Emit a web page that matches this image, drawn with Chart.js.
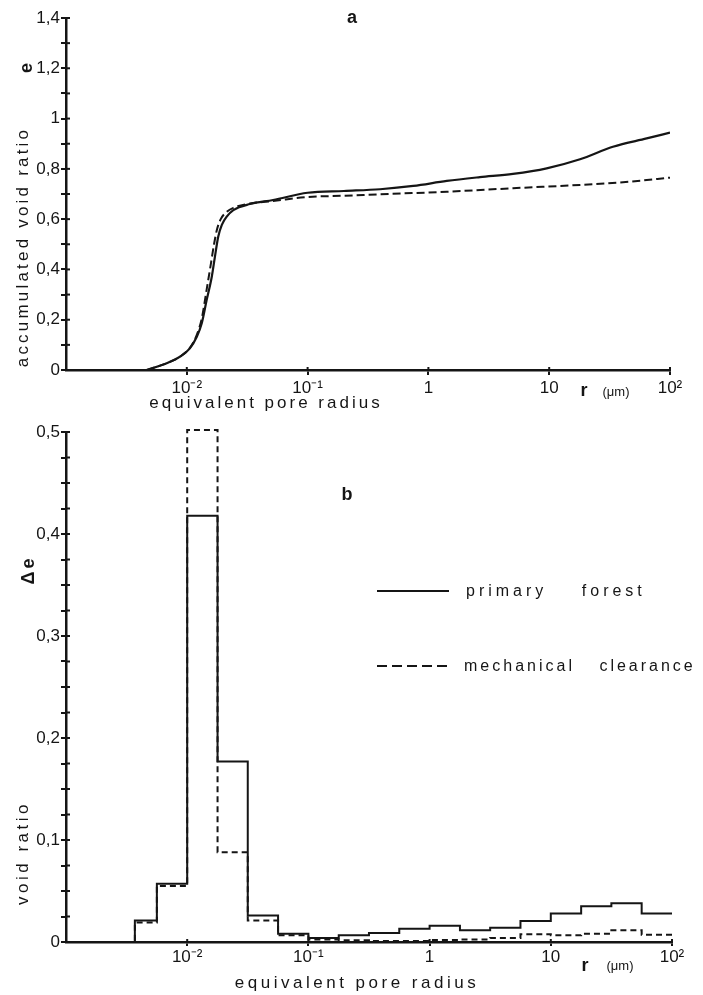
<!DOCTYPE html>
<html><head><meta charset="utf-8">
<script src="https://cdn.jsdelivr.net/npm/chart.js@4.4.1/dist/chart.umd.min.js"></script>
<style>
html,body{margin:0;padding:0;background:#fff;}
#wrap{position:relative;width:703px;height:995px;overflow:hidden;background:#fff;}
canvas{position:absolute;left:0;}
#c1{top:0;}
#c2{top:420px;}
</style></head><body>
<div id="wrap"><canvas id="c1" width="703" height="420"></canvas><canvas id="c2" width="703" height="575"></canvas></div>
<script>
// ---------- data ----------
const seriesNames = ['primary forest', 'mechanical clearance'];
const xTickValues = [0.01, 0.1, 1, 10, 100];
const xTickLabels = ['10⁻²', '10⁻¹', '1', '10', '10²'];

// panel a: accumulated void ratio e vs equivalent pore radius r (µm)
const accRadiusForest = [0.00466, 0.00682, 0.00879, 0.0106, 0.0121, 0.0133, 0.0146, 0.0161, 0.0171, 0.0182, 0.0195, 0.0214, 0.0243, 0.0333, 0.0518, 0.1, 0.2, 0.398, 0.75, 1.42, 2.67, 5.01, 9.53, 18, 33.7, 64.1, 100];
const accVoidForest   = [0, 0.027, 0.053, 0.086, 0.132, 0.186, 0.278, 0.371, 0.451, 0.530, 0.577, 0.610, 0.636, 0.660, 0.676, 0.705, 0.712, 0.719, 0.732, 0.752, 0.767, 0.780, 0.802, 0.838, 0.888, 0.921, 0.944];
const accRadiusClear  = [0.00466, 0.00682, 0.00879, 0.0106, 0.0121, 0.0133, 0.0146, 0.0158, 0.0168, 0.0178, 0.0191, 0.0209, 0.0243, 0.0333, 0.0518, 0.1, 0.2, 0.398, 1.42, 5.01, 18, 46.8, 100];
const accVoidClear    = [0, 0.027, 0.053, 0.088, 0.140, 0.205, 0.320, 0.420, 0.500, 0.560, 0.600, 0.625, 0.645, 0.662, 0.672, 0.688, 0.693, 0.699, 0.709, 0.723, 0.736, 0.749, 0.765];

// panel b: void ratio increment per radius class
const binEdges    = [0.0037, 0.00562, 0.01, 0.0178, 0.0316, 0.0562, 0.1, 0.178, 0.316, 0.562, 1, 1.78, 3.16, 5.62, 10, 17.8, 31.6, 56.2, 100];
const deltaForest = [0.021, 0.057, 0.418, 0.177, 0.026, 0.008, 0.004, 0.0066, 0.0088, 0.013, 0.016, 0.0115, 0.014, 0.0206, 0.028, 0.035, 0.038, 0.028];
const deltaClear  = [0.019, 0.055, 0.502, 0.088, 0.021, 0.0065, 0.0024, 0.0017, 0.001, 0.001, 0.002, 0.0024, 0.004, 0.0075, 0.0066, 0.008, 0.0115, 0.0072];

const xMin = 0.001, xMax = 100;

// ---------- helpers ----------
const INK = '#151515';
const FAM = "'Liberation Sans', Arial, Helvetica, sans-serif";
const fmtComma = v => String(parseFloat(v.toFixed(3))).replace('.', ',');

function histPoints(edges, vals) {
  const pts = [{x: xMin, y: 0}, {x: edges[0], y: 0}];
  vals.forEach((v, i) => { pts.push({x: edges[i], y: v}); pts.push({x: edges[i + 1], y: v}); });
  return pts;
}
const curvePoints = (xs, ys) => xs.map((x, i) => ({x, y: ys[i]}));

const textPlugin = {
  id: 'textItems',
  afterDraw(chart, args, opts) {
    const ctx = chart.ctx;
    (opts.items || []).forEach(it => {
      ctx.save();
      ctx.font = it.font;
      ctx.fillStyle = INK;
      ctx.textAlign = it.align || 'center';
      ctx.textBaseline = 'middle';
      if ('letterSpacing' in ctx) ctx.letterSpacing = (it.spacing || 0) + 'px';
      ctx.translate(it.x, it.y);
      if (it.rotate) ctx.rotate(it.rotate * Math.PI / 180);
      ctx.fillText(it.text, 0, 0);
      ctx.restore();
    });
  }
};

const legendPlugin = {
  id: 'inlineLegend',
  afterDraw(chart, args, opts) {
    if (!opts.rows) return;
    const ctx = chart.ctx;
    opts.rows.forEach((row, i) => {
      const ds = chart.data.datasets[i];
      ctx.save();
      ctx.strokeStyle = ds.borderColor;
      ctx.lineWidth = row.lineWidth;
      ctx.setLineDash(row.dash || []);
      ctx.beginPath(); ctx.moveTo(row.x0, row.y); ctx.lineTo(row.x1, row.y); ctx.stroke();
      ctx.setLineDash([]);
      ctx.font = opts.font;
      ctx.fillStyle = INK;
      ctx.textAlign = 'left';
      ctx.textBaseline = 'middle';
      if ('letterSpacing' in ctx) ctx.letterSpacing = row.spacing + 'px';
      if ('wordSpacing' in ctx) ctx.wordSpacing = (row.wordSpacing || 0) + 'px';
      ctx.fillText(ds.label, row.tx, row.y + 1);
      ctx.restore();
    });
  }
};

const crossTicks = {
  id: 'crossTicks',
  afterDraw(chart, args, opts) {
    const ctx = chart.ctx, a = chart.chartArea;
    ctx.save();
    ctx.strokeStyle = INK; ctx.lineWidth = 2;
    const ys = chart.scales.y;
    ys.ticks.forEach(t => { const p = ys.getPixelForValue(t.value); ctx.beginPath(); ctx.moveTo(a.left, p); ctx.lineTo(a.left + opts.yIn, p); ctx.stroke(); });
    const xs = chart.scales.x;
    xs.ticks.forEach(t => { const p = xs.getPixelForValue(t.value); ctx.beginPath(); ctx.moveTo(p, a.bottom); ctx.lineTo(p, a.bottom - opts.xIn); ctx.stroke(); });
    ctx.restore();
  }
};

function xScale(height, tickLen, pad) {
  return {
    type: 'logarithmic', min: xMin, max: xMax,
    afterBuildTicks: s => { s.ticks = xTickValues.map(v => ({value: v})); },
    afterFit: s => { s.height = height; },
    border: {display: true, color: INK, width: 2.5},
    grid: {display: true, drawOnChartArea: false, drawTicks: true, tickLength: tickLen, color: INK, lineWidth: 2},
    ticks: {autoSkip: false, maxRotation: 0, padding: pad, color: INK, font: {family: FAM, size: 17},
      callback: (v, i) => xTickLabels[i]}
  };
}
function yScale(max, step, labelEvery) {
  return {
    type: 'linear', min: 0, max: max,
    afterFit: s => { s.width = 66; },
    border: {display: true, color: INK, width: 2.5},
    grid: {display: true, drawOnChartArea: false, drawTicks: true, tickLength: 5, color: INK, lineWidth: 2},
    ticks: {stepSize: step, autoSkip: false, padding: 1, color: INK, font: {family: FAM, size: 17},
      callback: v => (Math.round(v * 1000) % Math.round(labelEvery * 1000) === 0) ? fmtComma(v) : ''}
  };
}

const common = {
  responsive: false, animation: false, devicePixelRatio: 1, events: []
};

// ---------- panel a ----------
new Chart(document.getElementById('c1'), {
  type: 'line',
  data: {datasets: [
    {label: seriesNames[0], data: curvePoints(accRadiusForest, accVoidForest), borderColor: INK, borderWidth: 2.2,
     pointRadius: 0, fill: false, cubicInterpolationMode: 'monotone'},
    {label: seriesNames[1], data: curvePoints(accRadiusClear, accVoidClear), borderColor: INK, borderWidth: 2,
     borderDash: [8, 4], pointRadius: 0, fill: false, cubicInterpolationMode: 'monotone'}
  ]},
  options: Object.assign({}, common, {
    layout: {padding: {left: 0, right: 33, top: 18, bottom: 0}},
    scales: {x: xScale(50, 5, 3), y: yScale(1.4, 0.1, 0.2)},
    plugins: {
      legend: {display: false}, tooltip: {enabled: false},
      crossTicks: {yIn: 4, xIn: 3},
      textItems: {items: [
        {text: 'a', x: 352, y: 18, font: `bold 18px ${FAM}`},
        {text: 'e', x: 27, y: 68, font: `bold 18px ${FAM}`, rotate: -90},
        {text: 'accumulated void ratio', x: 23, y: 247, font: `17px ${FAM}`, spacing: 3.2, rotate: -90},
        {text: 'equivalent pore radius', x: 266, y: 403, font: `17px ${FAM}`, spacing: 3},
        {text: 'r', x: 584, y: 391, font: `bold 18px ${FAM}`},
        {text: '(μm)', x: 616, y: 392, font: `13px ${FAM}`}
      ]}
    }
  }),
  plugins: [crossTicks, textPlugin]
});

// ---------- panel b ----------
new Chart(document.getElementById('c2'), {
  type: 'line',
  data: {datasets: [
    {label: seriesNames[0], data: histPoints(binEdges, deltaForest), borderColor: INK, borderWidth: 2,
     pointRadius: 0, fill: false, tension: 0, clip: false},
    {label: seriesNames[1], data: histPoints(binEdges, deltaClear), borderColor: INK, borderWidth: 2,
     borderDash: [6, 4], pointRadius: 0, fill: false, tension: 0, clip: false}
  ]},
  options: Object.assign({}, common, {
    layout: {padding: {left: 0, right: 31, top: 12, bottom: 0}},
    scales: {x: xScale(53, 4, 1), y: yScale(0.5, 0.025, 0.1)},
    plugins: {
      legend: {display: false}, tooltip: {enabled: false},
      crossTicks: {yIn: 4, xIn: 3},
      inlineLegend: {font: `16px ${FAM}`, rows: [
        {x0: 377, x1: 449, y: 171, tx: 466, lineWidth: 2.2, dash: [], spacing: 4, wordSpacing: 26},
        {x0: 377, x1: 449, y: 246, tx: 464, lineWidth: 2, dash: [10, 5], spacing: 3, wordSpacing: 17}
      ]},
      textItems: {items: [
        {text: 'b', x: 347, y: 75, font: `bold 18px ${FAM}`},
        {text: 'Δe', x: 29, y: 150, font: `bold 18px ${FAM}`, spacing: 3, rotate: -90},
        {text: 'void ratio', x: 23, y: 433, font: `17px ${FAM}`, spacing: 3.5, rotate: -90},
        {text: 'equivalent pore radius', x: 357, y: 563, font: `17px ${FAM}`, spacing: 3.5},
        {text: 'r', x: 585, y: 546, font: `bold 18px ${FAM}`},
        {text: '(μm)', x: 620, y: 546, font: `13px ${FAM}`}
      ]}
    }
  }),
  plugins: [crossTicks, legendPlugin, textPlugin]
});
</script>
</body></html>
